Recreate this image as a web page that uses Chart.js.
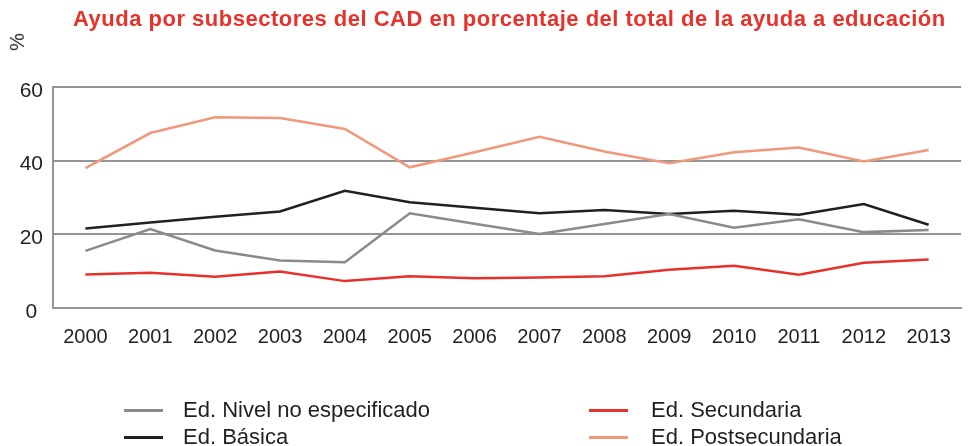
<!DOCTYPE html>
<html>
<head>
<meta charset="utf-8">
<script src="https://cdn.jsdelivr.net/npm/chart.js@4.4.1/dist/chart.umd.min.js"></script>
<style>
  html, body { margin: 0; padding: 0; background: #fff; }
  #wrap { position: relative; width: 968px; height: 446px; font-family: "Liberation Sans", Arial, sans-serif; }
  #chart { position: absolute; left: 0; top: 0; }
  #title { position: absolute; left: 73px; top: 6px; color: #e8312b; letter-spacing: 0.5px;
           font-weight: bold; font-size: 22px; line-height: 26px; white-space: nowrap; }
  #unit { position: absolute; left: 8px; top: 31px; font-size: 20px; line-height: 22px; color: #231f20; transform: rotate(-90deg); }
  .leg { position: absolute; font-size: 22px; color: #231f20; white-space: nowrap; line-height: 26px; }
  .leg span { position: absolute; width: 39px; height: 3px; top: 12px; }
</style>
</head>
<body>
<div id="wrap">
  <canvas id="chart" width="968" height="446"></canvas>
  <div id="title">Ayuda por subsectores del CAD en porcentaje del total de la ayuda a educación</div>
  <div id="unit">%</div>
  <div id="legend"></div>
</div>
<script>
// Datos (% del total de la ayuda a educación)
const years = ['2000', '2001', '2002', '2003', '2004', '2005', '2006', '2007', '2008', '2009', '2010', '2011', '2012', '2013'];

const nivelNoEspecificado = [15.5, 21.4, 15.6, 12.9, 12.4, 25.7, 22.9, 20.1, 22.8, 25.5, 21.8, 24.1, 20.6, 21.2];
const basica = [21.6, 23.2, 24.8, 26.2, 31.8, 28.7, 27.2, 25.7, 26.6, 25.5, 26.4, 25.3, 28.2, 22.6];
const secundaria = [9.1, 9.6, 8.5, 9.9, 7.3, 8.6, 8.1, 8.3, 8.6, 10.4, 11.5, 9.0, 12.3, 13.2];
const postsecundaria = [38.0, 47.5, 51.8, 51.6, 48.6, 38.2, 42.3, 46.5, 42.5, 39.3, 42.3, 43.6, 39.8, 42.9];

const yTicks = [0, 20, 40, 60];

const series = [
  { label: 'Ed. Nivel no especificado', data: nivelNoEspecificado, color: '#8a8a8d' },
  { label: 'Ed. Básica', data: basica, color: '#231f20' },
  { label: 'Ed. Secundaria', data: secundaria, color: '#e8312b' },
  { label: 'Ed. Postsecundaria', data: postsecundaria, color: '#f0997a' }
];

const gridColor = '#939598';

new Chart(document.getElementById('chart'), {
  type: 'line',
  data: {
    labels: years,
    datasets: series.map(s => ({
      label: s.label,
      data: s.data,
      borderColor: s.color,
      backgroundColor: s.color,
      borderWidth: 2.5,
      pointRadius: 0,
      tension: 0
    }))
  },
  options: {
    responsive: false,
    animation: false,
    layout: { padding: { top: 87, right: 3, left: 0, bottom: 80 } },
    plugins: { legend: { display: false }, title: { display: false }, tooltip: { enabled: false } },
    scales: {
      x: {
        offset: true,
        grid: { display: false, drawTicks: false },
        border: { display: true, color: gridColor, width: 2 },
        ticks: { color: '#231f20', padding: 17, font: { family: 'Liberation Sans', size: 20 }, maxRotation: 0, autoSkip: false }
      },
      y: {
        min: 0,
        max: 60,
        afterBuildTicks: axis => { axis.ticks = yTicks.map(v => ({ value: v })); },
        afterFit: axis => { axis.width = 53; },
        grid: { color: gridColor, lineWidth: 2, drawTicks: false },
        border: { display: true, color: gridColor, width: 2 },
        ticks: { color: '#231f20', padding: 10, crossAlign: 'center', labelOffset: 4, font: { family: 'Liberation Sans', size: 21 } }
      }
    }
  }
});

// Leyenda en dos columnas, como en el original
const legendPos = [[124, 397, 183], [124, 424, 183], [589, 397, 651], [589, 424, 651]];
const legend = document.getElementById('legend');
series.forEach((s, i) => {
  const d = document.createElement('div');
  d.className = 'leg';
  d.style.left = legendPos[i][2] + 'px';
  d.style.top = legendPos[i][1] + 'px';
  d.textContent = s.label;
  const sw = document.createElement('span');
  sw.style.background = s.color;
  sw.style.left = (legendPos[i][0] - legendPos[i][2]) + 'px';
  d.appendChild(sw);
  legend.appendChild(d);
});
</script>
</body>
</html>
